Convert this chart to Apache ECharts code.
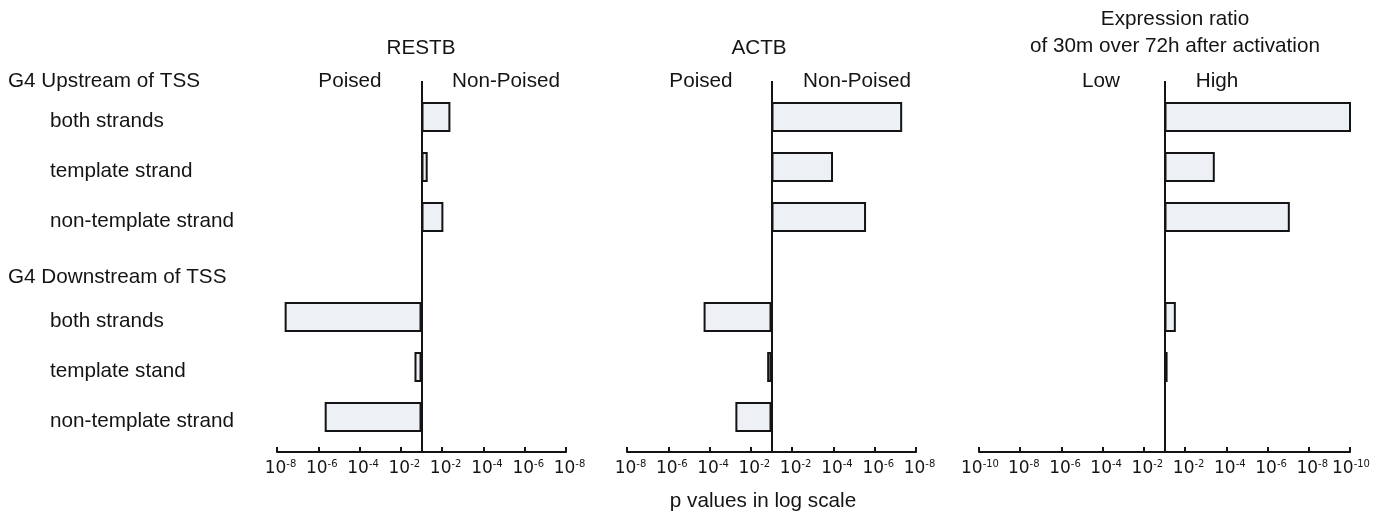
<!DOCTYPE html>
<html>
<head>
<meta charset="utf-8">
<script src="https://cdn.jsdelivr.net/npm/echarts@6/dist/echarts.min.js"></script>
<style>
  html, body { margin: 0; padding: 0; background: #fff; }
  #main { width: 1390px; height: 514px; }
</style>
</head>
<body>
<div id="main"></div>
<script>
// rows from top to bottom, the empty one is the gap under "G4 Downstream of TSS"
var rowLabels = ['both strands', 'template strand', 'non-template strand', '', 'both strands', 'template stand', 'non-template strand'];
var groupHeaders = ['G4 Upstream of TSS', 'G4 Downstream of TSS'];

// bar length in decades away from the middle line (negative = left side)
// the first tick on each side is 10^-2, one decade out from the middle
var restbValues = [1.40, 0.30, 1.06, null, -6.63, -0.34, -4.69];
var actbValues = [6.33, 2.98, 4.58, null, -3.29, -0.21, -1.75];
var exprValues = [9.09, 2.44, 6.08, null, 0.55, 0.15, null];

var panelTitles = ['RESTB', 'ACTB', 'Expression ratio\nof 30m over 72h after activation'];
var sideLabels = [['Poised', 'Non-Poised'], ['Poised', 'Non-Poised'], ['Low', 'High']];
var ticksNarrow = [-7, -5, -3, -1, 1, 3, 5, 7];
var ticksWide = [-9, -7, -5, -3, -1, 1, 3, 5, 7, 9];
var axisTitle = 'p values in log scale';

var ink = '#141414';
var barFill = '#edf0f5';
var font = '"Liberation Sans", Arial, sans-serif';

function tickLabel (v) {
  var e = '-' + (Math.abs(v) + 1);
  return '{' + (e.length > 2 ? 'b2' : 'b1') + '|10}{s|' + e + '}';
}

function chart () {
  var myChart = echarts.init(document.getElementById('main'));

  var panels = [
    { left: 277, width: 289, values: restbValues, ticks: ticksNarrow, titleX: 421, sideX: [350, 506] },
    { left: 627, width: 289, values: actbValues, ticks: ticksNarrow, titleX: 759, sideX: [701, 857] },
    { left: 979, width: 371, values: exprValues, ticks: ticksWide, titleX: 1175, sideX: [1101, 1217] }
  ];

  var txt = { fontSize: 20.7, fontWeight: 'normal', color: ink, fontFamily: font, lineHeight: 20 };
  // left padding pushes "10" back under the tick; kept small for two-digit exponents
  // so the end labels do not collide with their neighbours
  var tickRich = {
    b1: { fontSize: 17, lineHeight: 20, color: ink, fontFamily: 'DejaVu Sans', padding: [0, 0, 0, 7] },
    b2: { fontSize: 17, lineHeight: 20, color: ink, fontFamily: 'DejaVu Sans', padding: [0, 0, 0, 2] },
    s: { fontSize: 10, lineHeight: 12, color: ink, fontFamily: 'DejaVu Sans', verticalAlign: 'top' }
  };

  var grid = [], xAxis = [], yAxis = [], series = [], title = [];

  // row group headers on the left
  title.push({ text: groupHeaders[0], left: 8, top: 71, padding: 0, textStyle: txt });
  title.push({ text: groupHeaders[1], left: 8, top: 267, padding: 0, textStyle: txt });
  title.push({ text: axisTitle, left: 763, top: 491, textAlign: 'center', padding: 0, textStyle: txt });

  panels.forEach(function (p, i) {
    var ext = p.ticks[p.ticks.length - 1];
    grid.push({ left: p.left, width: p.width, top: 92, height: 350 });

    // bottom axis with the p value ticks
    xAxis.push({
      gridIndex: i, type: 'value', min: -ext, max: ext, position: 'bottom', offset: 10,
      axisLine: { show: true, onZero: false, lineStyle: { color: ink, width: 2 } },
      axisTick: { show: true, inside: true, length: 5, customValues: p.ticks, lineStyle: { color: ink, width: 2 } },
      axisLabel: { customValues: p.ticks, formatter: tickLabel, margin: 7, rich: tickRich,
        showMinLabel: true, showMaxLabel: true, hideOverlap: false },
      splitLine: { show: false }
    });
    // middle line, drawn as a single long tick at 0
    xAxis.push({
      gridIndex: i, type: 'value', min: -ext, max: ext, position: 'top', offset: 11,
      axisLine: { show: false },
      axisTick: { show: true, inside: true, length: 371, customValues: [0], lineStyle: { color: ink, width: 2 } },
      axisLabel: { show: false },
      splitLine: { show: false }
    });

    yAxis.push({
      gridIndex: i, type: 'category', inverse: true, data: rowLabels,
      axisLine: { show: false, onZero: false },
      axisTick: { show: false },
      axisLabel: i === 0
        ? { align: 'left', verticalAlign: 'top', lineHeight: 8, margin: p.left - 50, fontSize: 20.7, color: ink, fontFamily: font }
        : { show: false }
    });

    series.push({
      type: 'bar', xAxisIndex: i * 2, yAxisIndex: i, data: p.values,
      barWidth: 30, silent: true,
      itemStyle: { color: barFill, borderColor: ink, borderWidth: 2 }
    });

    if (i < 2) {
      title.push({ text: panelTitles[i], left: p.titleX, top: 38, textAlign: 'center', padding: 0, textStyle: txt });
    } else {
      title.push({ text: panelTitles[i], left: p.titleX, top: 6, textAlign: 'center', padding: 0,
        textStyle: Object.assign({}, txt, { lineHeight: 27 }) });
    }
    title.push({ text: sideLabels[i][0], left: p.sideX[0], top: 71, textAlign: 'center', padding: 0, textStyle: txt });
    title.push({ text: sideLabels[i][1], left: p.sideX[1], top: 71, textAlign: 'center', padding: 0, textStyle: txt });
  });

  var option = {
    animation: false,
    backgroundColor: '#ffffff',
    title: title,
    grid: grid,
    xAxis: xAxis,
    yAxis: yAxis,
    series: series
  };

  option && myChart.setOption(option);
}

chart();
</script>
</body>
</html>
